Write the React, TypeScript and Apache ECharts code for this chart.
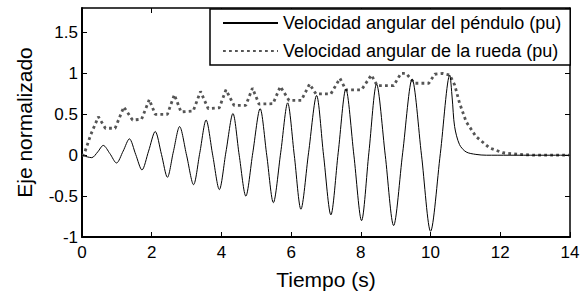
import React, { useEffect, useRef } from "react";
import * as echarts from "echarts";

// Tiempo (s), velocidad angular del péndulo (pu)
const penduloT = [0, 0.15, 0.28, 0.45, 0.61, 0.8, 0.99, 1.18, 1.36, 1.54, 1.72, 1.91, 2.1, 2.28, 2.45, 2.62, 2.8, 3.0, 3.2, 3.38, 3.56, 3.75, 3.94, 4.13, 4.33, 4.51, 4.7, 4.9, 5.11, 5.3, 5.49, 5.7, 5.9, 6.09, 6.28, 6.5, 6.73, 6.93, 7.14, 7.35, 7.57, 7.8, 8.02, 8.23, 8.45, 8.7, 8.94, 9.2, 9.47, 9.74, 10.0, 10.28, 10.55, 10.62, 10.69, 10.83, 11.02, 11.3, 11.6, 14];
const penduloV = [0, -0.02, -0.03, 0.04, 0.12, 0.02, -0.095, 0.05, 0.2, 0.01, -0.18, 0.05, 0.29, 0.01, -0.27, 0.04, 0.35, 0.0, -0.36, 0.03, 0.43, 0.0, -0.42, 0.04, 0.51, 0.0, -0.5, 0.03, 0.57, 0.0, -0.58, 0.03, 0.64, 0.0, -0.66, 0.03, 0.73, 0.0, -0.73, 0.03, 0.81, 0.0, -0.8, 0.03, 0.87, 0.0, -0.86, 0.03, 0.93, 0.0, -0.93, 0.02, 0.98, 0.7, 0.35, 0.13, 0.04, 0.01, 0, 0];

// Tiempo (s), velocidad angular de la rueda (pu)
const ruedaT = [0, 0.05, 0.25, 0.47, 0.67, 0.95, 1.2, 1.45, 1.71, 1.93, 2.1, 2.45, 2.65, 2.84, 3.19, 3.4, 3.62, 3.94, 4.13, 4.36, 4.7, 4.89, 5.08, 5.48, 5.69, 5.94, 6.29, 6.53, 6.71, 7.14, 7.4, 7.57, 8.02, 8.3, 8.47, 8.94, 9.15, 9.3, 9.54, 9.95, 10.12, 10.35, 10.55, 10.69, 10.83, 11.02, 11.3, 11.69, 12.07, 12.55, 13, 14];
const ruedaV = [0, 0.0, 0.25, 0.47, 0.33, 0.33, 0.59, 0.43, 0.44, 0.68, 0.5, 0.5, 0.74, 0.53, 0.54, 0.78, 0.57, 0.58, 0.8, 0.61, 0.61, 0.82, 0.625, 0.63, 0.84, 0.67, 0.67, 0.87, 0.75, 0.75, 0.94, 0.8, 0.8, 0.98, 0.85, 0.85, 1.0, 1.0, 0.88, 0.88, 0.99, 1.0, 0.98, 0.86, 0.64, 0.41, 0.23, 0.09, 0.03, 0.01, 0, 0];

const seriesNames = ["Velocidad angular del péndulo (pu)", "Velocidad angular de la rueda (pu)"];
const xTitle = "Tiempo (s)";
const yTitle = "Eje normalizado";

const FONT = "'Liberation Sans', Arial, sans-serif";

export default function App() {
  const ref = useRef<HTMLDivElement>(null);
  useEffect(() => {
    if (!ref.current) return;
    const chart = echarts.init(ref.current, undefined, { renderer: "svg" });
    const pend = penduloT.map((t, i) => [t, penduloV[i]]);
    const rueda = ruedaT.map((t, i) => [t, ruedaV[i]]);
    const xCommon = {
      type: "value" as const,
      min: 0,
      max: 14,
      interval: 2,
      splitLine: { show: false },
    };
    const yCommon = {
      type: "value" as const,
      min: -1,
      max: 1.8,
      interval: 0.5,
      splitLine: { show: false },
    };
    chart.setOption({
      animation: false,
      backgroundColor: "#fff",
      textStyle: { fontFamily: FONT, color: "#000" },
      grid: { left: 82, right: 15, top: 8, bottom: 57, containLabel: false },
      xAxis: [
        {
          ...xCommon,
          position: "bottom",
          name: xTitle,
          nameLocation: "middle",
          nameGap: 32,
          nameTextStyle: { fontSize: 21, color: "#000", fontFamily: FONT },
          axisLine: { show: true, onZero: false, lineStyle: { color: "#000", width: 2 } },
          axisTick: { show: true, inside: true, length: 5, lineStyle: { color: "#000", width: 1 } },
          axisLabel: { fontSize: 17, color: "#000", margin: 7, fontFamily: FONT },
        },
        {
          ...xCommon,
          position: "top",
          axisLine: { show: true, onZero: false, lineStyle: { color: "#000", width: 1.5 } },
          axisTick: { show: true, inside: true, length: 5, lineStyle: { color: "#000", width: 1 } },
          axisLabel: { show: false },
        },
      ],
      yAxis: [
        {
          ...yCommon,
          position: "left",
          name: yTitle,
          nameLocation: "middle",
          nameGap: 47,
          nameRotate: 90,
          nameTextStyle: { fontSize: 21, color: "#000", fontFamily: FONT },
          axisLine: { show: true, onZero: false, lineStyle: { color: "#000", width: 2 } },
          axisTick: { show: true, inside: true, length: 5, lineStyle: { color: "#000", width: 1 } },
          axisLabel: { fontSize: 17, color: "#000", margin: 4, showMaxLabel: false, fontFamily: FONT },
        },
        {
          ...yCommon,
          position: "right",
          axisLine: { show: true, onZero: false, lineStyle: { color: "#000", width: 1.5 } },
          axisTick: { show: true, inside: true, length: 5, lineStyle: { color: "#000", width: 1 } },
          axisLabel: { show: false },
        },
      ],
      legend: {
        orient: "vertical",
        left: 210,
        top: 9,
        backgroundColor: "#fff",
        borderColor: "#000",
        borderWidth: 1.5,
        borderRadius: 0,
        padding: [4, 9, 4, 12],
        itemWidth: 55,
        itemHeight: 20,
        itemGap: 8,
        itemStyle: { opacity: 0 },
        textStyle: { fontSize: 18, color: "#000", fontFamily: FONT, lineHeight: 20 },
        data: seriesNames,
      },
      series: [
        {
          name: seriesNames[0],
          type: "line",
          data: pend,
          showSymbol: false,
          symbol: "none",
          smooth: 0.3,
          lineStyle: { color: "#000", width: 1 },
          itemStyle: { color: "#000" },
          z: 3,
        },
        {
          name: seriesNames[1],
          type: "line",
          data: rueda,
          showSymbol: false,
          symbol: "none",
          lineStyle: { color: "#555", width: 2.8, type: [2.8, 3.2] },
          itemStyle: { color: "#555" },
          z: 2,
        },
      ],
    });
    return () => chart.dispose();
  }, []);
  return (
    <div
      ref={ref}
      style={{ position: "fixed", left: 0, top: 0, width: 585, height: 295 }}
    />
  );
}
